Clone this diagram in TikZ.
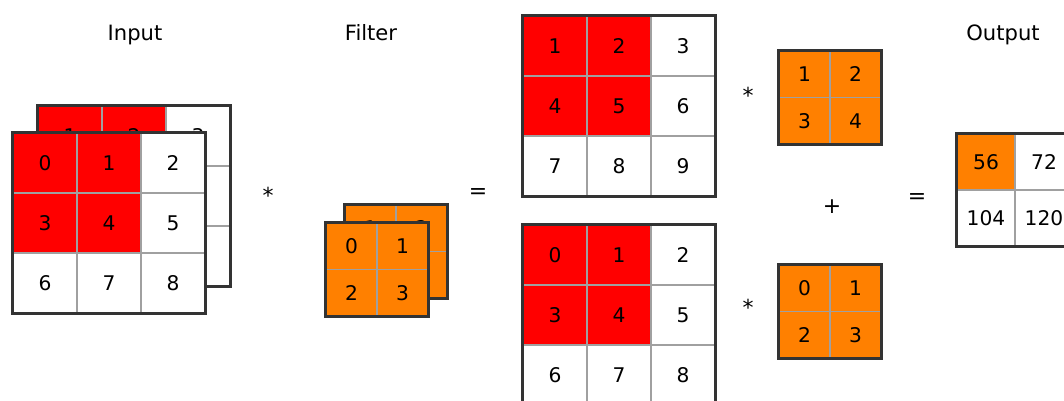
\documentclass[tikz,border=0pt]{standalone}
\usepackage{fontspec}
\setmainfont{DejaVu Sans}
\definecolor{cellred}{HTML}{FF0000}
\definecolor{cellorange}{HTML}{FF8000}
\definecolor{gridline}{HTML}{A0A0A0}
\definecolor{framedark}{HTML}{333333}
\tikzset{
  cell/.style={draw=gridline, line width=1pt, fill=white, minimum width=1.28cm,
               minimum height=1.2cm, inner sep=0pt, font=\fontsize{11.5}{14}\selectfont},
  redcell/.style={cell, fill=cellred},
  whitecell/.style={cell},
  fcell/.style={cell, fill=cellorange, minimum width=1.02cm, minimum height=0.93cm},
  ocell/.style={cell, minimum width=1.16cm, minimum height=1.12cm},
  hotcell/.style={ocell, fill=cellorange},
  frame/.style={draw=framedark, line width=1.6pt},
  title/.style={font=\fontsize{12}{14}\selectfont, anchor=base},
  op/.style={font=\fontsize{12.5}{14}\selectfont, anchor=base},
}

\begin{document}
\begin{tikzpicture}[x=0.02cm, y=-0.02cm]
  \clip (0,0) rectangle (1064,401);

  % headings
  \node[title] (tin)  at (135, 41) {Input};
  \node[title] (tflt) at (371, 41) {Filter};
  \node[title] (tout) at (1003, 41) {Output};

  % input, channel behind
  \foreach \s/\v [count=\i from 0] in {redcell/1, redcell/2, whitecell/3, redcell/4, redcell/5,
      whitecell/6, whitecell/7, whitecell/8, whitecell/9}
    \node[\s] (ina-\i) at ({70+64*mod(\i,3)}, {136+60*int(\i/3)}) {\v};
  \draw[frame] (ina-0.north west) rectangle (ina-8.south east);
  % input, channel in front
  \foreach \s/\v [count=\i from 0] in {redcell/0, redcell/1, whitecell/2, redcell/3, redcell/4,
      whitecell/5, whitecell/6, whitecell/7, whitecell/8}
    \node[\s] (inb-\i) at ({45+64*mod(\i,3)}, {163+60*int(\i/3)}) {\v};
  \draw[frame] (inb-0.north west) rectangle (inb-8.south east);

  \node[op] (star1) at (268, 204) {*};

  % filter, both channels
  \foreach \v [count=\i from 0] in {1,2,3,4}
    \node[fcell] (fa-\i) at ({370.5+51*mod(\i,2)}, {228.25+46.5*int(\i/2)}) {\v};
  \draw[frame] (fa-0.north west) rectangle (fa-3.south east);
  \foreach \v [count=\i from 0] in {0,1,2,3}
    \node[fcell] (fb-\i) at ({351.5+51*mod(\i,2)}, {246.25+46.5*int(\i/2)}) {\v};
  \draw[frame] (fb-0.north west) rectangle (fb-3.south east);

  \node[op] (eq1) at (478, 199) {=};

  % channels taken apart
  \foreach \s/\v [count=\i from 0] in {redcell/1, redcell/2, whitecell/3, redcell/4, redcell/5,
      whitecell/6, whitecell/7, whitecell/8, whitecell/9}
    \node[\s] (ma-\i) at ({555+64*mod(\i,3)}, {46+60*int(\i/3)}) {\v};
  \draw[frame] (ma-0.north west) rectangle (ma-8.south east);
  \foreach \s/\v [count=\i from 0] in {redcell/0, redcell/1, whitecell/2, redcell/3, redcell/4,
      whitecell/5, whitecell/6, whitecell/7, whitecell/8}
    \node[\s] (mb-\i) at ({555+64*mod(\i,3)}, {255+60*int(\i/3)}) {\v};
  \draw[frame] (mb-0.north west) rectangle (mb-8.south east);

  \node[op] (star2) at (748, 104) {*};
  \node[op] (star3) at (748, 316) {*};

  \foreach \v [count=\i from 0] in {1,2,3,4}
    \node[fcell] (ka-\i) at ({804.5+51*mod(\i,2)}, {74.25+46.5*int(\i/2)}) {\v};
  \draw[frame] (ka-0.north west) rectangle (ka-3.south east);
  \foreach \v [count=\i from 0] in {0,1,2,3}
    \node[fcell] (kb-\i) at ({804.5+51*mod(\i,2)}, {288.25+46.5*int(\i/2)}) {\v};
  \draw[frame] (kb-0.north west) rectangle (kb-3.south east);

  \node[op] (plus) at (832, 214) {+};
  \node[op] (eq2) at (917, 204) {=};

  % output
  \foreach \s/\v [count=\i from 0] in {hotcell/56, ocell/72, ocell/104, ocell/120}
    \node[\s] (out-\i) at ({986+58*mod(\i,2)}, {162+56*int(\i/2)}) {\v};
  \draw[frame] (out-0.north west) rectangle (out-3.south east);
\end{tikzpicture}
\end{document}
